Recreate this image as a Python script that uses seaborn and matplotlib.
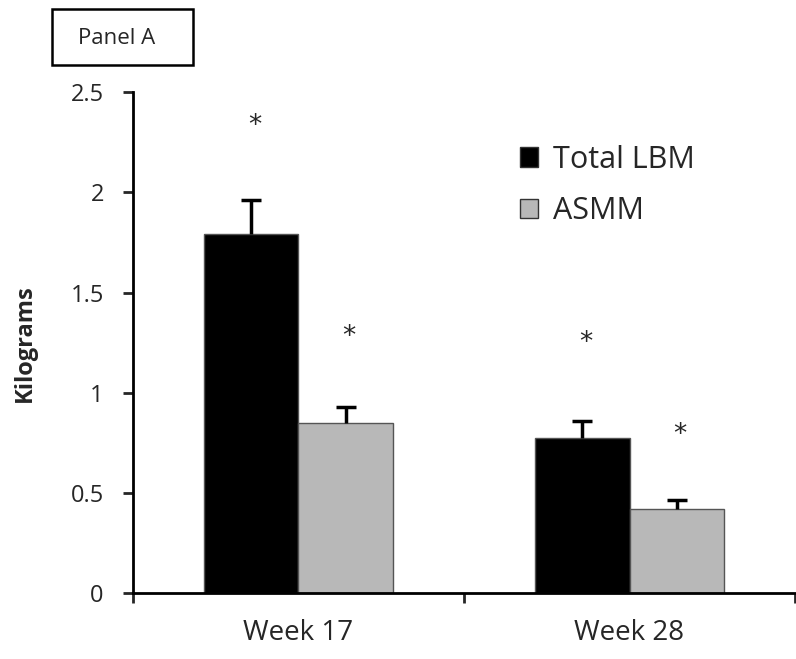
import pandas as pd
import numpy as np
import matplotlib.pyplot as plt
import seaborn as sns
from matplotlib.patches import Rectangle

sns.set_style("white")
plt.rcParams["font.family"] = ["Open Sans", "DejaVu Sans"]

weeks = ["Week 17", "Week 28"]
measures = ["Total LBM", "ASMM"]
total_lbm = [1.79, 0.775]
asmm = [0.85, 0.42]
total_err = [0.17, 0.085]
asmm_err = [0.08, 0.045]
star_y_total = [2.33, 1.25]
star_y_asmm = [1.28, 0.79]

df = pd.DataFrame({
    "Week": weeks * 2,
    "Measure": [measures[0]] * 2 + [measures[1]] * 2,
    "Kg": total_lbm + asmm,
})

fig = plt.figure(figsize=(7.96, 6.59), dpi=100)
ax = fig.add_axes([0.167, 0.100, 0.836, 0.760])

palette = {"Total LBM": "#000000", "ASMM": "#b8b8b8"}
sns.barplot(data=df, x="Week", y="Kg", hue="Measure", palette=palette,
            width=0.57, gap=0, errorbar=None, edgecolor="#555555",
            linewidth=1, saturation=1, ax=ax)

# upper-only error bars and significance stars
errs = total_err + asmm_err
stars = star_y_total + star_y_asmm
bars = [p for p in ax.patches if p.get_height() > 0][:4]
for p, e, s in zip(bars, errs, stars):
    xc = p.get_x() + p.get_width() / 2
    h = p.get_height()
    _, caps, _ = ax.errorbar(xc, h, yerr=[[0], [e]], fmt="none", ecolor="black",
                             elinewidth=2.5, capsize=7, capthick=2.5)
    caps[0].set_visible(False)
    ax.text(xc + 0.01, s, "*", ha="center", va="center", fontsize=19,
            family="DejaVu Sans")

ax.set_xlim(-0.5, 1.51)
ax.set_ylim(0, 2.5)
ax.set_yticks([0, 0.5, 1, 1.5, 2, 2.5])
ax.set_yticklabels(["0", "0.5", "1", "1.5", "2", "2.5"])
ax.set_xticks([0, 1])
ax.set_xticklabels(weeks)
ax.set_xticks([-0.5, 0.5, 1.5], minor=True)
ax.tick_params(axis="x", which="major", bottom=False, length=0, pad=19, labelsize=20)
ax.tick_params(axis="x", which="minor", bottom=True, length=7, width=2, direction="out")
ax.tick_params(axis="y", left=True, length=7, width=2, direction="out",
               labelsize=17, pad=14)
ax.set_xlabel("")
ax.set_ylabel("Kilograms", fontsize=17, fontweight="bold", labelpad=24)
sns.despine(ax=ax)
for sp in ["left", "bottom"]:
    ax.spines[sp].set_linewidth(2)
    ax.spines[sp].set_color("black")

leg = ax.legend(loc="upper left", bbox_to_anchor=(0.54, 0.95), frameon=False,
                fontsize=22, handlelength=0.6, handleheight=0.6,
                handletextpad=0.5, labelspacing=0.7)
for h in leg.legend_handles:
    h.set_edgecolor("#333333")

fig.patches.append(Rectangle((52 / 796, 1 - 65 / 659), 141 / 796, 56 / 659,
                             transform=fig.transFigure, facecolor="white",
                             edgecolor="black", linewidth=1.8))
fig.text(117 / 796, 1 - 39 / 659, "Panel A", ha="center", va="center", fontsize=16)

fig.savefig("out.png", dpi=100)
